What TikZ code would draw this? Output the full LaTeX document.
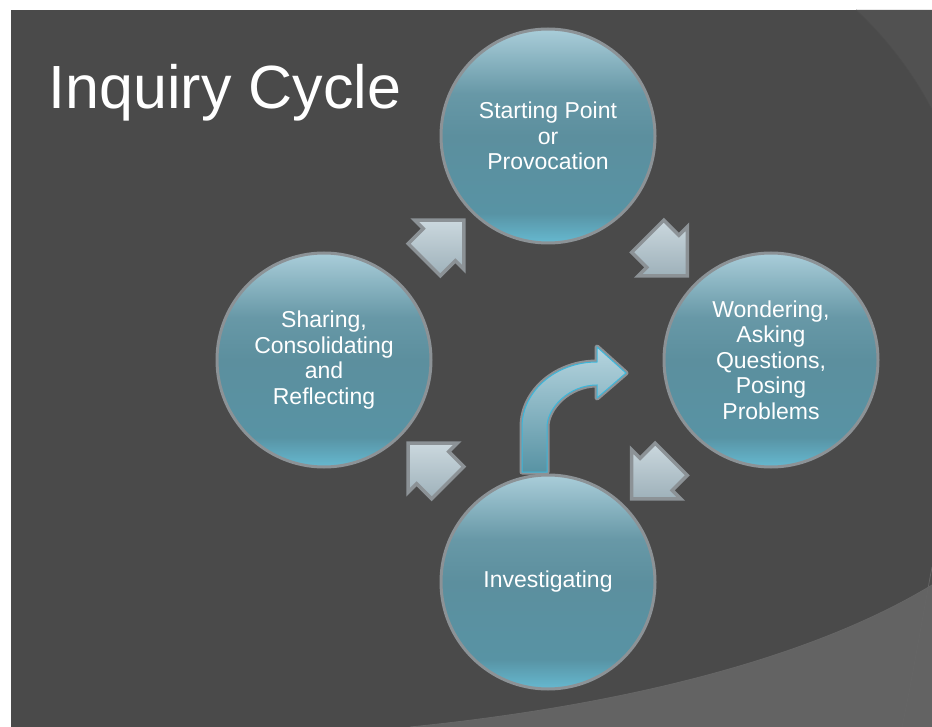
\documentclass[tikz,border=0pt]{standalone}
\usepackage{fontspec}
\setmainfont{Liberation Sans}
\usetikzlibrary{calc}
\usetikzlibrary{shapes.arrows}

\definecolor{slate}{HTML}{4A4A4A}
\definecolor{slatelight}{HTML}{636363}
\definecolor{rimgrey}{HTML}{8C9296}
\definecolor{tealtop}{HTML}{A9CDD9}
\definecolor{tealmid}{HTML}{5C8F9E}
\definecolor{tealdeep}{HTML}{5893A4}
\definecolor{tealfoot}{HTML}{66B9D0}
\definecolor{silvertop}{HTML}{CBD8DE}
\definecolor{silverfoot}{HTML}{9EB1BA}
\definecolor{cyanrim}{HTML}{3CB6DA}

%% the box of a path is mapped to 25bp--75bp of the shading
\pgfdeclareverticalshading{bubble}{100bp}{color(0bp)=(tealfoot); color(25bp)=(tealfoot); color(32bp)=(tealdeep); color(50bp)=(tealmid); color(60bp)=(tealmid!85!tealtop); color(75bp)=(tealtop); color(100bp)=(tealtop)}

\begin{document}
\begin{tikzpicture}[x=1pt,y=-1pt] %% pixel grid of the slide
	\tikzstyle{bubble}=[circle,draw=rimgrey,line width=3pt,shading=bubble,minimum size=214pt,inner sep=0pt,text=white,align=center,font=\fontsize{23}{25.5}\selectfont];
	\tikzstyle{fatarrow}=[single arrow,draw=rimgrey,line width=3.5pt,top color=silvertop,bottom color=silverfoot,minimum height=56pt,inner xsep=0pt,inner ysep=21pt,single arrow head extend=12pt,single arrow tip angle=90];
	\useasboundingbox (0,0) rectangle (932,727);
	\fill[white] (0,0) rectangle (932,727);
	\fill[slate] (11,10) rectangle (932,727);
	%% theme arcs
	\fill[slate!96!white] (856,10) .. controls (888,40) and (914,75) .. (932,110) -- (932,10) -- cycle;
	\draw[black!70,line width=.8pt] (856,10) .. controls (888,40) and (914,75) .. (932,110);
	\fill[slatelight] (410,727) .. controls (600,708) and (800,665) .. (932,585) -- (932,727) -- cycle;
	\draw[black!60,line width=.8pt] (410,727) .. controls (600,708) and (800,665) .. (932,585);
	\draw[slate!85!white,line width=.8pt] (902,727) .. controls (912,680) and (922,620) .. (932,567);
	\node[font=\fontsize{61}{61}\selectfont,text=white,anchor=base west] (title) at (45,109) {Inquiry Cycle};
	%% the curved arrow in the middle
	\draw[rimgrey,line width=5pt,line join=round] (522,472) -- (522,427) .. controls (522,391) and (556,362) .. (597,362) -- (597,347) -- (626,373) -- (597,398) -- (597,385) .. controls (569,385) and (547,408) .. (547,427) -- (547,472) -- cycle;
	\draw[cyanrim,line width=1pt,top color=tealtop!85!white,bottom color=tealdeep] (522,472) -- (522,427) .. controls (522,391) and (556,362) .. (597,362) -- (597,347) -- (626,373) -- (597,398) -- (597,385) .. controls (569,385) and (547,408) .. (547,427) -- (547,472) -- cycle;
	%% the four stages
	\node[bubble] (start) at (548,136) {Starting Point\\or\\Provocation};
	\node[bubble] (wonder) at (771,360) {Wondering,\\Asking\\Questions,\\Posing\\Problems};
	\node[bubble] (invest) at (548,582) {Investigating};
	\node[bubble] (share) at (324,360) {Sharing,\\Consolidating\\and\\Reflecting};
	%% block arrows between stages
	\node[fatarrow,rotate=45] (toStart) at ($(share)!.5!(start)$) {};
	\node[fatarrow,rotate=-45] (toWonder) at ($(start)!.5!(wonder)$) {};
	\node[fatarrow,rotate=-135] (toInvest) at ($(wonder)!.5!(invest)$) {};
	\node[fatarrow,rotate=135] (toShare) at ($(invest)!.5!(share)$) {};
\end{tikzpicture}
\end{document}
